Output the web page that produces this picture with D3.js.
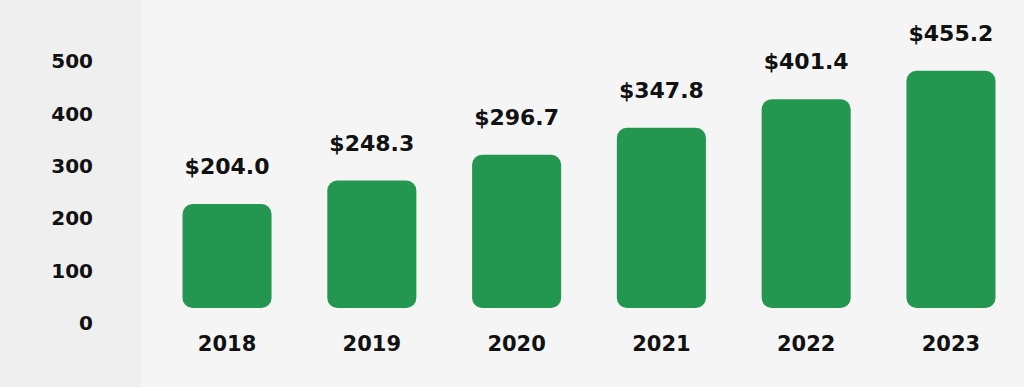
<!DOCTYPE html>
<html>
<head>
<meta charset="utf-8">
<script src="https://cdn.jsdelivr.net/npm/d3@7"></script>
<style>
  html, body { margin: 0; padding: 0; background: #f5f5f5; }
  svg { display: block; }
  text { font-family: "DejaVu Sans", sans-serif; font-weight: bold; fill: #111; }
</style>
</head>
<body>
<svg id="chart" width="1024" height="387"></svg>
<script>
const years = ["2018", "2019", "2020", "2021", "2022", "2023"];
const values = [204.0, 248.3, 296.7, 347.8, 401.4, 455.2];
const valueLabels = ["$204.0", "$248.3", "$296.7", "$347.8", "$401.4", "$455.2"];
const tickValues = [0, 100, 200, 300, 400, 500];

const W = 1024, H = 387;
const svg = d3.select("#chart");

svg.append("rect").attr("x", 0).attr("y", 0).attr("width", W).attr("height", H).attr("fill", "#f5f5f5");
svg.append("rect").attr("x", 0).attr("y", 0).attr("width", 141).attr("height", H).attr("fill", "#efefef");

const x = d3.scaleBand().domain(years).range([155, 1023]).paddingInner(0.385).paddingOuter(0.19);
const yBar = d3.scaleLinear().domain([0, 500]).range([312.3, 47]);
const yAxisScale = d3.scaleLinear().domain([0, 500]).range([323, 61.5]);
const barBottom = 308;

// y axis labels
const yAxis = d3.axisLeft(yAxisScale).tickValues(tickValues).tickSize(0).tickPadding(0).tickFormat(d3.format("d"));
const gy = svg.append("g").attr("transform", "translate(93,0)").call(yAxis);
gy.select(".domain").remove();
gy.selectAll("text").attr("font-size", 20).attr("font-family", "DejaVu Sans, sans-serif").attr("font-weight", "bold").attr("fill", "#111");

// bars
svg.selectAll("rect.bar").data(values).enter().append("rect")
  .attr("class", "bar")
  .attr("x", (d, i) => x(years[i]))
  .attr("width", x.bandwidth())
  .attr("y", d => yBar(d))
  .attr("height", d => barBottom - yBar(d))
  .attr("rx", 10).attr("ry", 10)
  .attr("fill", "#23974f");

// value labels
svg.selectAll("text.val").data(values).enter().append("text")
  .attr("class", "val")
  .attr("x", (d, i) => x(years[i]) + x.bandwidth() / 2)
  .attr("y", d => yBar(d) - 30)
  .attr("text-anchor", "middle")
  .attr("font-size", 22)
  .text((d, i) => valueLabels[i]);

// x axis labels
const xAxis = d3.axisBottom(x).tickSize(0).tickPadding(0);
const gx = svg.append("g").attr("transform", "translate(0,336)").call(xAxis);
gx.select(".domain").remove();
gx.selectAll("text").attr("font-size", 21).attr("font-family", "DejaVu Sans, sans-serif").attr("font-weight", "bold").attr("fill", "#111");
</script>
</body>
</html>
